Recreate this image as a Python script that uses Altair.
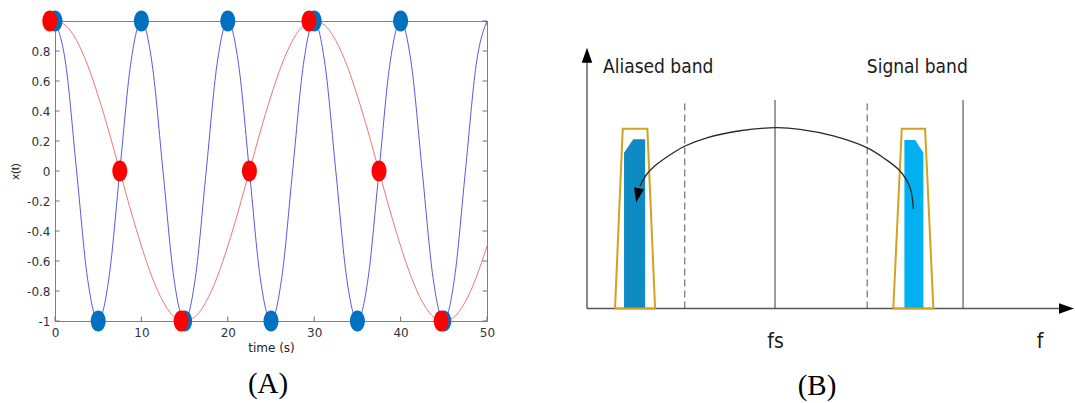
import altair as alt
import pandas as pd

# ---------------- Panel (A): two sampled cosines ----------------
curve_t = [0, 1.25, 2.5, 3.75, 5, 6.25, 7.5, 8.75, 10, 11.25, 12.5, 13.75,
           15, 16.25, 17.5, 18.75, 20, 21.25, 22.5, 23.75, 25, 26.25, 27.5,
           28.75, 30, 31.25, 32.5, 33.75, 35, 36.25, 37.5, 38.75, 40, 41.25,
           42.5, 43.75, 45, 46.25, 47.5, 48.75, 50]
fast_x = [1, 0.71, 0, -0.71, -1, -0.71, 0, 0.71,
          1, 0.71, 0, -0.71, -1, -0.71, 0, 0.71,
          1, 0.71, 0, -0.71, -1, -0.71, 0, 0.71,
          1, 0.71, 0, -0.71, -1, -0.71, 0, 0.71,
          1, 0.71, 0, -0.71, -1, -0.71, 0, 0.71, 1]
slow_x = [1, 0.97, 0.87, 0.71, 0.5, 0.26, 0, -0.26, -0.5, -0.71, -0.87, -0.97, -1,
          -0.97, -0.87, -0.71, -0.5, -0.26, 0, 0.26, 0.5, 0.71, 0.87, 0.97, 1,
          0.97, 0.87, 0.71, 0.5, 0.26, 0, -0.26, -0.5, -0.71, -0.87, -0.97, -1,
          -0.97, -0.87, -0.71, -0.5]

fast_dot_t = [0, 5, 10, 15, 20, 25, 30, 35, 40, 45]
fast_dot_x = [1, -1, 1, -1, 1, -1, 1, -1, 1, -1]
slow_dot_t = [-0.6, 7.5, 14.6, 22.5, 29.4, 37.5, 44.7]
slow_dot_x = [1, 0, -1, 0, 1, 0, -1]

x_ticks = [0, 10, 20, 30, 40, 50]
y_ticks = [-1, -0.8, -0.6, -0.4, -0.2, 0, 0.2, 0.4, 0.6, 0.8, 1]

# ---------------- Panel (B): aliasing diagram ----------------
dashed_f = [0.52, 1.49]
solid_f = [1.0, 2.0]
guide_top = 1.16

axis_x = [0, 0]
axis_x2 = [0, 2.55]
axis_y = [0, 0]
axis_y2 = [1.41, 0]

head_x = [0, 2.55, 0.269]
head_y = [1.41, 0, 0.629]
head_angle = [0, 90, 191.5]
head_size = [225, 225, 210]

outline_band = ["alias"] * 5 + ["signal"] * 5
outline_seq = [0, 1, 2, 3, 4, 0, 1, 2, 3, 4]
outline_x = [0.149, 0.190, 0.321, 0.362, 0.149, 1.629, 1.674, 1.798, 1.842, 1.629]
outline_y = [0, 1.0, 1.0, 0, 0, 0, 1.0, 1.0, 0, 0]

fill_band = ["alias"] * 3 + ["signal"] * 3
fill_color = ["#0e8bc3"] * 3 + ["#00b0f0"] * 3
fill_x = [0.197, 0.246, 0.309, 1.688, 1.745, 1.789]
fill_y = [0.867, 0.942, 0.942, 0.938, 0.938, 0.867]

arc_x = [1.736, 1.718, 1.665, 1.576, 1.488, 1.310, 1.133, 1.005, 0.814,
         0.637, 0.521, 0.459, 0.371, 0.318, 0.282]
arc_y = [0.552, 0.672, 0.765, 0.839, 0.895, 0.960, 0.997, 1.006, 0.989,
         0.950, 0.904, 0.867, 0.802, 0.747, 0.681]

band_labels = ["Aliased band", "Signal band"]
band_label_x = [0.085, 1.488]
band_label_y = [1.312, 1.312]
freq_labels = ["fs", "f"]
freq_label_x = [1.003, 2.41]
freq_label_y = [-0.22, -0.22]

# ---------------- shared styling ----------------
ELLIPSE = ("M0.714,0 C0.714,0.552 0.394,1 0,1 C-0.394,1 -0.714,0.552 -0.714,0 "
           "C-0.714,-0.552 -0.394,-1 0,-1 C0.394,-1 0.714,-0.552 0.714,0 Z")
TRIANGLE = "M0,-1 L0.7,1 L-0.7,1 Z"
LABEL_FONT = "DejaVu Sans"
DIAGRAM_FONT = "DejaVu Sans Condensed"

W_A, H_A = 432, 300
t_scale = alt.Scale(domain=[0, 50], nice=False, zero=False)
v_scale = alt.Scale(domain=[-1, 1], nice=False, zero=False)

x_axis = alt.Axis(values=x_ticks, title="time (s)", grid=False, ticks=False,
                  domain=False, labelFlush=False, labelFont=LABEL_FONT,
                  labelFontSize=12, labelColor="#333333", labelPadding=6,
                  titleFont=LABEL_FONT, titleFontSize=12,
                  titleFontWeight="normal", titleColor="#222222",
                  titlePadding=4)
y_axis = alt.Axis(values=y_ticks, title="x(t)", grid=False, ticks=False,
                  domain=False, labelFlush=False, labelFont=LABEL_FONT,
                  labelFontSize=12, labelColor="#333333", labelPadding=5,
                  labelExpr="datum.value < 0 ? '-' + format(-datum.value, '.1~f') : format(datum.value, '.1~f')",
                  titleFont="Liberation Sans", titleFontSize=11.5,
                  titleFontWeight="normal", titleColor="#222222",
                  titlePadding=6)


def tx(field="t"):
    return alt.X(f"{field}:Q", scale=t_scale, axis=x_axis)


def vy(field="v"):
    return alt.Y(f"{field}:Q", scale=v_scale, axis=y_axis)


fast_df = pd.DataFrame({"t": curve_t, "v": fast_x})
slow_df = pd.DataFrame({"t": curve_t, "v": slow_x})
fast_dots = pd.DataFrame({"t": fast_dot_t, "v": fast_dot_x})
slow_dots = pd.DataFrame({"t": slow_dot_t, "v": slow_dot_x})
yt_df = pd.DataFrame({"v": y_ticks})
xt_df = pd.DataFrame({"t": x_ticks})

fast_line = alt.Chart(fast_df).mark_line(
    color="#4444e8", strokeWidth=0.9, interpolate="monotone"
).encode(x=tx(), y=vy())
slow_line = alt.Chart(slow_df).mark_line(
    color="#f05050", strokeWidth=0.8, interpolate="monotone"
).encode(x=tx(), y=vy())

tick_style = dict(color="#707070", strokeWidth=1)
ticks_left = alt.Chart(yt_df).mark_rule(**tick_style).encode(
    y=vy(), x=alt.value(0), x2=alt.value(4.5))
ticks_right = alt.Chart(yt_df).mark_rule(**tick_style).encode(
    y=vy(), x=alt.value(W_A), x2=alt.value(W_A - 4.5))
ticks_bottom = alt.Chart(xt_df).mark_rule(**tick_style).encode(
    x=tx(), y=alt.value(H_A), y2=alt.value(H_A - 4.5))
ticks_top = alt.Chart(xt_df).mark_rule(**tick_style).encode(
    x=tx(), y=alt.value(0), y2=alt.value(4.5))

fast_pts = alt.Chart(fast_dots).mark_point(
    shape=ELLIPSE, size=441, filled=True, color="#0070c0", opacity=1
).encode(x=tx(), y=vy())
slow_pts = alt.Chart(slow_dots).mark_point(
    shape=ELLIPSE, size=441, filled=True, color="#ff0000", opacity=1
).encode(x=tx(), y=vy())

panel_a = alt.layer(
    ticks_left, ticks_right, ticks_bottom, ticks_top,
    fast_line, slow_line, fast_pts, slow_pts
).properties(
    width=W_A, height=H_A,
    view=alt.ViewBackground(stroke="#808080", strokeOpacity=1, strokeWidth=1),
    title=alt.TitleParams("(A)", orient="bottom", font="Liberation Serif",
                          fontSize=29, fontWeight="normal", color="#000000",
                          anchor="middle", offset=17, dx=-3),
)

# ---------------- panel (B) ----------------
W_B, H_B = 534, 300
f_scale = alt.Scale(domain=[-0.25, 2.59], nice=False, zero=False)
a_scale = alt.Scale(domain=[-0.07, 1.6], nice=False, zero=False)


def fx(field="x"):
    return alt.X(f"{field}:Q", scale=f_scale, axis=None)


def ay(field="y"):
    return alt.Y(f"{field}:Q", scale=a_scale, axis=None)


dashed_df = pd.DataFrame({"x": dashed_f, "y": [0] * 2, "y2": [guide_top] * 2})
solid_df = pd.DataFrame({"x": solid_f, "y": [0] * 2, "y2": [guide_top] * 2})
axes_df = pd.DataFrame({"x": axis_x, "x2": axis_x2, "y": axis_y, "y2": axis_y2})
heads_df = pd.DataFrame({"x": head_x, "y": head_y, "ang": head_angle, "sz": head_size})
outline_df = pd.DataFrame({"band": outline_band, "seq": outline_seq,
                           "x": outline_x, "y": outline_y})
fill_df = pd.DataFrame({"band": fill_band, "fill": fill_color, "x": fill_x,
                        "y": fill_y, "base": [0] * 6})
arc_df = pd.DataFrame({"seq": list(range(len(arc_x))), "x": arc_x, "y": arc_y})
band_text_df = pd.DataFrame({"x": band_label_x, "y": band_label_y, "label": band_labels})
freq_text_df = pd.DataFrame({"x": freq_label_x, "y": freq_label_y, "label": freq_labels})

dashed = alt.Chart(dashed_df).mark_rule(
    color="#555555", strokeWidth=1, strokeDash=[7, 4]
).encode(x=fx(), y=ay(), y2="y2:Q")
solid = alt.Chart(solid_df).mark_rule(color="#3a3a3a", strokeWidth=1).encode(
    x=fx(), y=ay(), y2="y2:Q")
axes_lines = alt.Chart(axes_df).mark_rule(color="#555555", strokeWidth=1.4).encode(
    x=fx(), x2="x2:Q", y=ay(), y2="y2:Q")
fills = alt.Chart(fill_df).mark_area(opacity=1).encode(
    x=fx(), y=ay(), y2="base:Q",
    color=alt.Color("fill:N", scale=None), detail="band:N")
outlines = alt.Chart(outline_df).mark_line(
    color="#d4a21e", strokeWidth=2, strokeJoin="miter"
).encode(x=fx(), y=ay(), detail="band:N", order="seq:Q")
arc = alt.Chart(arc_df).mark_line(
    color="#2a2a2a", strokeWidth=1.3, interpolate="catmull-rom"
).encode(x=fx(), y=ay(), order="seq:Q")
heads = alt.Chart(heads_df).mark_point(
    shape=TRIANGLE, filled=True, color="#000000", opacity=1
).encode(x=fx(), y=ay(), angle=alt.Angle("ang:Q", scale=None),
         size=alt.Size("sz:Q", scale=None))
band_text = alt.Chart(band_text_df).mark_text(
    align="left", baseline="alphabetic", font=DIAGRAM_FONT, fontSize=19,
    color="#1a1a1a"
).encode(x=fx(), y=ay(), text="label:N")
freq_text = alt.Chart(freq_text_df).mark_text(
    align="center", baseline="alphabetic", font=DIAGRAM_FONT, fontSize=21,
    color="#1a1a1a"
).encode(x=fx(), y=ay(), text="label:N")

panel_b = alt.layer(
    dashed, solid, axes_lines, fills, outlines, arc, heads, band_text, freq_text
).properties(
    width=W_B, height=H_B,
    title=alt.TitleParams("(B)", orient="bottom", font="Liberation Serif",
                          fontSize=29, fontWeight="normal", color="#000000",
                          anchor="middle", offset=20, dx=10),
)

chart = alt.hconcat(panel_a, panel_b, spacing=53, bounds="flush").properties(
    padding={"left": 9, "top": 10, "right": 0, "bottom": 0},
    background="white",
).configure_view(strokeOpacity=0)

chart.save("out.html", embed_options={"renderer": "svg", "actions": False})
